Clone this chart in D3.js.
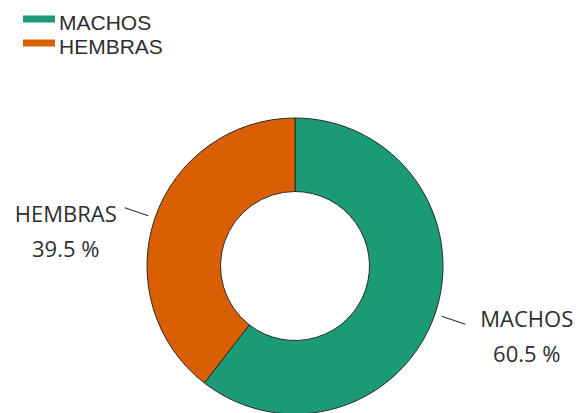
<!DOCTYPE html>
<html>
<head>
<meta charset="utf-8">
<script src="https://cdn.jsdelivr.net/npm/d3@7"></script>
<style>
  html, body { margin: 0; padding: 0; background: #ffffff; }
  svg { display: block; }
  text { font-family: "Open Sans", "Noto Sans", sans-serif; fill: #2e2e2e; }
  .legend text { font-family: "Liberation Sans", Arial, sans-serif; }
</style>
</head>
<body>
<svg id="chart" width="578" height="413"></svg>
<script>
// Sex distribution
const categories = ["MACHOS", "HEMBRAS"];
const values = [60.5, 39.5];
const colors = ["#1b9a76", "#d95f02"];

const width = 578, height = 413;
const cx = 295, cy = 266;
const outerR = 148, innerR = 74.5;

const svg = d3.select("#chart");

const color = d3.scaleOrdinal().domain(categories).range(colors);

const data = categories.map((c, i) => ({ name: c, value: values[i] }));

const pie = d3.pie().value(d => d.value).sort(null);
const arcs = pie(data);

const arc = d3.arc().innerRadius(innerR).outerRadius(outerR);

const g = svg.append("g").attr("transform", `translate(${cx},${cy})`);

g.selectAll("path.slice")
  .data(arcs)
  .join("path")
  .attr("class", "slice")
  .attr("d", arc)
  .attr("fill", d => color(d.data.name))
  .attr("stroke", "#2a2a2a")
  .attr("stroke-width", 1);

// Leader lines and two-line labels
const lineInner = d3.arc().innerRadius(155).outerRadius(155);
const lineOuter = d3.arc().innerRadius(180).outerRadius(180);
const fontSize = 22;

arcs.forEach(d => {
  const p1 = lineInner.centroid(d);
  const p2 = lineOuter.centroid(d);
  const mid = (d.startAngle + d.endAngle) / 2;
  const right = mid < Math.PI;

  g.append("line")
    .attr("x1", p1[0]).attr("y1", p1[1])
    .attr("x2", p2[0]).attr("y2", p2[1])
    .attr("stroke", "#333333")
    .attr("stroke-width", 1.2);

  const t = g.append("text")
    .attr("text-anchor", "middle")
    .style("font-size", fontSize + "px");
  const l1 = t.append("tspan").text(d.data.name);
  const w = l1.node().getComputedTextLength();
  const xc = right ? p2[0] + 15 + w / 2 : p2[0] - 8 - w / 2;
  const y0 = right ? p2[1] + 3 : p2[1] + 14;
  t.attr("y", y0);
  l1.attr("x", xc);
  t.append("tspan")
    .attr("x", xc)
    .attr("dy", 35)
    .text(d3.format(".1f")(d.data.value) + " %");
});

// Legend
const legend = svg.append("g").attr("class", "legend").attr("transform", "translate(23,0)");
categories.forEach((c, i) => {
  const row = legend.append("g").attr("transform", `translate(0,${i * 24})`);
  row.append("rect")
    .attr("x", 0).attr("y", 15.5)
    .attr("width", 32).attr("height", 7)
    .attr("fill", color(c));
  row.append("text")
    .attr("x", 36).attr("y", 29.5)
    .style("font-size", "21px")
    .text(c);
});
</script>
</body>
</html>
